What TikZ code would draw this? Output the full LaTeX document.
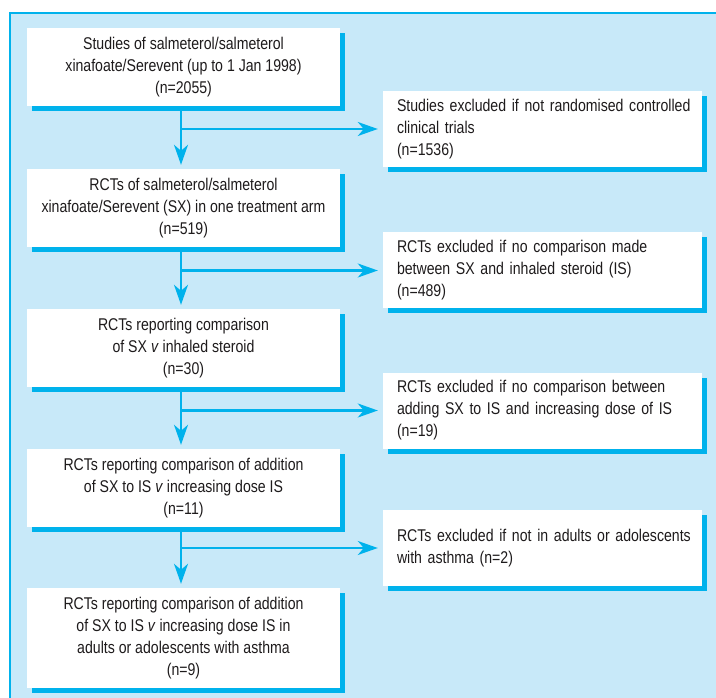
\documentclass[tikz,border=0pt]{standalone}
\usepackage{fontspec}
\setmainfont{Liberation Sans}[FakeStretch=0.83]
\usetikzlibrary{arrows.meta,shadows}
\definecolor{panel}{RGB}{200,233,249}
\definecolor{cy}{RGB}{0,178,236}
\definecolor{ink}{RGB}{30,27,28}
\begin{document}
\begin{tikzpicture}[x=1pt,y=-1pt,
  box/.style={fill=white, general shadow={fill=cy, shadow xshift=5pt, shadow yshift=-5pt},
    inner sep=0pt, font=\fontsize{17}{22}\selectfont, text=ink},
  mainbox/.style={box, align=center, minimum width=313pt, minimum height=78pt},
  exbox/.style={box, align=left, text width=291pt, inner xsep=14pt, minimum height=76pt},
  arr/.style={draw=cy, line width=2.2pt, -{Stealth[length=20pt,width=14pt,inset=6pt]}}]
\useasboundingbox (0,0) rectangle (716,698);
\fill[panel] (10,13) rectangle (716,698);
\draw[cy, line width=2pt] (10,698) -- (10,13) -- (716,13);
\coordinate (spine) at (181,0);

\node[mainbox] (b1) at (183.5,67) {Studies of salmeterol/salmeterol\\xinafoate/Serevent (up to 1 Jan 1998)\\(n=2055)};
\node[mainbox] (b2) at (183.5,208) {RCTs of salmeterol/salmeterol\\xinafoate/Serevent (SX) in one treatment arm\\(n=519)};
\node[mainbox] (b3) at (183.5,348) {RCTs reporting comparison\\of SX \textit{v} inhaled steroid\\(n=30)};
\node[mainbox] (b4) at (183.5,488) {RCTs reporting comparison of addition\\of SX to IS \textit{v} increasing dose IS\\(n=11)};
\node[mainbox, minimum height=100pt] (b5) at (183.5,638) {RCTs reporting comparison of addition\\of SX to IS \textit{v} increasing dose IS in\\adults or adolescents with asthma\\(n=9)};

\node[exbox] (e1) at (542.5,129) {\mbox{Studies excluded if not randomised controlled}\\\mbox{clinical trials}\\\mbox{(n=1536)}};
\node[exbox] (e2) at (542.5,270.5) {\mbox{RCTs excluded if no comparison made}\\\mbox{between SX and inhaled steroid (IS)}\\\mbox{(n=489)}};
\node[exbox] (e3) at (542.5,410.5) {\mbox{RCTs excluded if no comparison between}\\\mbox{adding SX to IS and increasing dose of IS}\\\mbox{(n=19)}};
\node[exbox] (e4) at (542.5,548) {\mbox{RCTs excluded if not in adults or adolescents}\\\mbox{with asthma (n=2)}};

\draw[arr, shorten >=4pt] (b1.south -| spine) -- (b2.north -| spine);
\draw[arr, shorten >=4pt] (b2.south -| spine) -- (b3.north -| spine);
\draw[arr, shorten >=4pt] (b3.south -| spine) -- (b4.north -| spine);
\draw[arr, shorten >=4pt] (b4.south -| spine) -- (b5.north -| spine);
\draw[arr, shorten >=5pt] (spine |- e1.west) -- (e1.west);
\draw[arr, shorten >=5pt] (spine |- e2.west) -- (e2.west);
\draw[arr, shorten >=5pt] (spine |- e3.west) -- (e3.west);
\draw[arr, shorten >=5pt] (spine |- e4.west) -- (e4.west);
\end{tikzpicture}
\end{document}
